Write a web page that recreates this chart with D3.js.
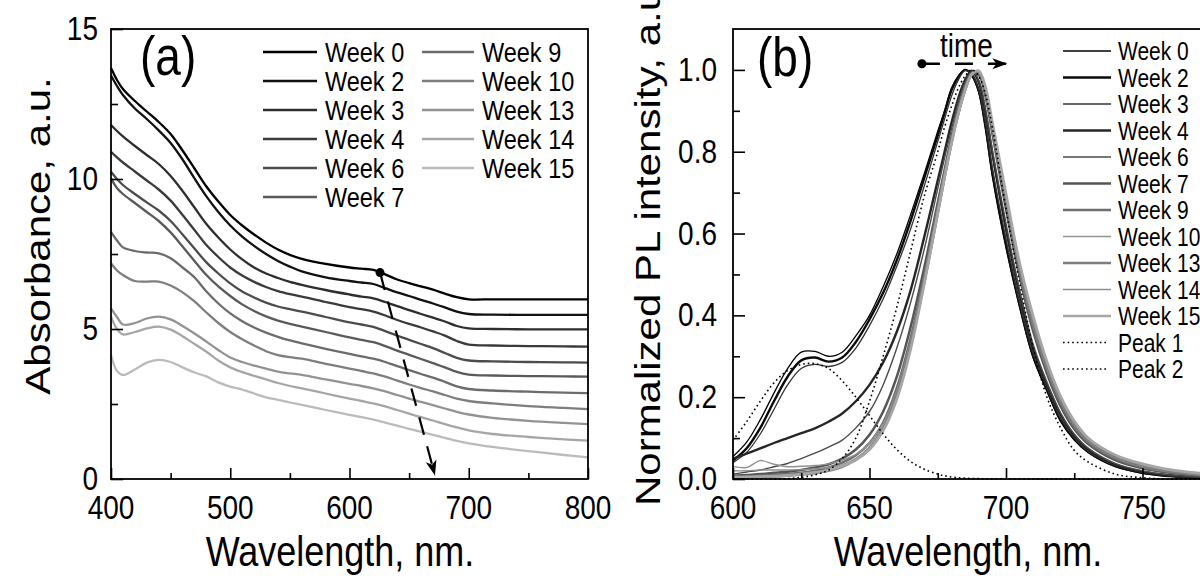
<!DOCTYPE html>
<html><head><meta charset="utf-8">
<script src="https://cdn.jsdelivr.net/npm/d3@7"></script>
<style>
body{margin:0;background:#fff}
svg{display:block}
text{font-family:"Liberation Sans",Arial,Helvetica,sans-serif;fill:#000}
</style>
</head><body>
<svg id="c" width="1200" height="576"></svg>
<script>
// ---------- Panel (a): absorbance ----------
const wlA = [400,405,410,420,430,440,450,460,470,480,490,500,510,520,530,540,550,560,580,600,610,620,630,640,650,660,670,680,690,700,720,750,780,800];
const absW0  = [13.7,13.3,13.0,12.6,12.25,11.9,11.5,10.95,10.35,9.75,9.25,8.8,8.45,8.15,7.88,7.65,7.47,7.34,7.17,7.05,7.01,6.97,6.82,6.65,6.53,6.42,6.31,6.18,6.06,5.99,5.99,5.99,5.99,5.99];
const absW2  = [13.45,13.1,12.8,12.35,12.0,11.62,11.2,10.65,10.02,9.42,8.9,8.45,8.08,7.77,7.5,7.27,7.08,6.92,6.72,6.6,6.55,6.5,6.36,6.22,6.1,5.97,5.85,5.72,5.58,5.5,5.48,5.47,5.47,5.47];
const absW3  = [11.8,11.6,11.42,11.1,10.8,10.5,10.1,9.6,9.05,8.5,8.05,7.65,7.32,7.05,6.85,6.7,6.57,6.47,6.3,6.15,6.08,6.02,5.9,5.76,5.63,5.5,5.38,5.25,5.1,5.02,5.0,4.99,4.99,4.99];
const absW4  = [10.91,10.72,10.55,10.25,9.95,9.65,9.28,8.8,8.3,7.8,7.4,7.05,6.78,6.57,6.4,6.26,6.16,6.08,5.9,5.73,5.66,5.58,5.45,5.3,5.17,5.05,4.92,4.78,4.6,4.48,4.45,4.43,4.42,4.41];
const absW6  = [10.24,10.0,9.8,9.5,9.22,8.95,8.6,8.15,7.68,7.22,6.85,6.52,6.25,6.05,5.88,5.75,5.66,5.58,5.4,5.22,5.15,5.07,4.93,4.78,4.64,4.5,4.36,4.2,4.04,3.95,3.92,3.9,3.89,3.88];
const absW7  = [10.02,9.7,9.5,9.2,8.9,8.6,8.22,7.75,7.27,6.8,6.42,6.1,5.82,5.6,5.42,5.28,5.17,5.08,4.9,4.72,4.64,4.56,4.43,4.28,4.14,4.0,3.86,3.72,3.57,3.48,3.45,3.43,3.42,3.41];
const absW9  = [8.24,7.95,7.72,7.6,7.55,7.52,7.36,7.05,6.72,6.25,5.85,5.52,5.26,5.05,4.88,4.74,4.62,4.52,4.34,4.17,4.09,4.01,3.9,3.76,3.63,3.5,3.38,3.24,3.09,3.0,2.95,2.91,2.88,2.86];
const absW10 = [7.19,6.95,6.8,6.6,6.58,6.58,6.45,6.22,5.92,5.55,5.2,4.9,4.66,4.45,4.26,4.13,4.06,4.01,3.84,3.68,3.6,3.52,3.41,3.28,3.15,3.03,2.92,2.8,2.68,2.6,2.52,2.43,2.37,2.33];
const absW13 = [5.69,5.4,5.15,5.2,5.35,5.41,5.32,5.1,4.85,4.58,4.3,4.05,3.9,3.78,3.68,3.58,3.52,3.47,3.32,3.17,3.1,3.02,2.92,2.8,2.68,2.57,2.46,2.35,2.24,2.15,2.04,1.94,1.87,1.83];
const absW14 = [5.41,5.0,4.82,4.9,5.02,5.08,4.98,4.76,4.5,4.24,3.95,3.72,3.56,3.44,3.32,3.2,3.1,3.02,2.85,2.68,2.6,2.52,2.42,2.3,2.18,2.06,1.95,1.83,1.72,1.62,1.5,1.4,1.32,1.28];
const absW15 = [4.13,3.6,3.47,3.65,3.88,3.97,3.9,3.72,3.55,3.42,3.22,3.08,2.98,2.85,2.72,2.64,2.55,2.47,2.3,2.14,2.06,1.98,1.88,1.78,1.67,1.57,1.47,1.37,1.27,1.19,1.07,0.93,0.8,0.72];
const namesA = ["Week 0","Week 2","Week 3","Week 4","Week 6","Week 7","Week 9","Week 10","Week 13","Week 14","Week 15"];
const seriesA = [absW0,absW2,absW3,absW4,absW6,absW7,absW9,absW10,absW13,absW14,absW15];
const colorsA = ["#000000","#111111","#2e2e2e","#3a3a3a","#4c4c4c","#5a5a5a","#6c6c6c","#7e7e7e","#939393","#a6a6a6","#bbbbbb"];
const xTicksA = [400,500,600,700,800], xMinorA = [450,550,650,750];
const yTicksA = [0,5,10,15], yMinorA = [2.5,7.5,12.5];
const arrowA = {x0:625.6, y0:6.88, x1:671.7, y1:0.12};

// ---------- Panel (b): normalized PL ----------
const wlB = [600,605,610,615,620,625,630,635,640,645,650,655,660,665,670,675,677.5,680,682.5,685,687.5,690,692.5,695,700,705,710,715,720,725,730,740,750,760,770,780,790,800];
const plW0  = [0.055,0.09,0.145,0.21,0.27,0.31,0.312,0.3,0.31,0.35,0.4,0.47,0.55,0.645,0.745,0.85,0.9,0.955,0.985,1.0,0.985,0.945,0.855,0.74,0.565,0.42,0.295,0.215,0.14,0.095,0.065,0.03,0.014,0.007,0.003,0.001,0,0];
const plW2  = [0.045,0.075,0.125,0.19,0.25,0.29,0.297,0.287,0.297,0.335,0.39,0.455,0.535,0.63,0.735,0.84,0.895,0.95,0.982,1.0,0.988,0.95,0.862,0.75,0.575,0.425,0.3,0.218,0.145,0.098,0.067,0.032,0.015,0.007,0.003,0.001,0,0];
const plW3  = [0.04,0.065,0.11,0.17,0.23,0.27,0.28,0.275,0.285,0.32,0.375,0.44,0.52,0.61,0.715,0.825,0.88,0.935,0.975,0.998,0.99,0.952,0.87,0.76,0.585,0.43,0.305,0.222,0.148,0.1,0.068,0.033,0.016,0.008,0.003,0.001,0,0];
const plW4  = [0.05,0.062,0.075,0.088,0.1,0.112,0.124,0.14,0.16,0.19,0.23,0.285,0.36,0.46,0.59,0.73,0.8,0.87,0.93,0.975,0.998,0.97,0.895,0.795,0.61,0.45,0.318,0.23,0.157,0.106,0.073,0.036,0.018,0.009,0.004,0.002,0.001,0];
const plW6  = [0.012,0.017,0.022,0.03,0.038,0.05,0.063,0.078,0.095,0.125,0.165,0.23,0.32,0.43,0.56,0.71,0.785,0.855,0.92,0.97,0.997,0.975,0.905,0.805,0.625,0.462,0.328,0.237,0.162,0.11,0.076,0.038,0.02,0.01,0.005,0.002,0.001,0];
const plW7  = [0.008,0.01,0.012,0.015,0.018,0.022,0.028,0.036,0.05,0.072,0.108,0.165,0.25,0.37,0.515,0.675,0.755,0.835,0.905,0.958,0.992,0.988,0.935,0.845,0.66,0.495,0.36,0.258,0.178,0.122,0.086,0.046,0.026,0.015,0.009,0.005,0.003,0.002];
const plW9  = [0.005,0.006,0.008,0.01,0.012,0.015,0.02,0.028,0.04,0.058,0.088,0.138,0.222,0.342,0.495,0.665,0.75,0.83,0.9,0.955,0.99,0.992,0.942,0.853,0.672,0.505,0.37,0.266,0.186,0.128,0.09,0.05,0.029,0.017,0.01,0.006,0.004,0.003];
const plW10 = [0.031,0.028,0.045,0.036,0.03,0.031,0.033,0.037,0.046,0.06,0.088,0.136,0.215,0.335,0.49,0.66,0.745,0.825,0.897,0.952,0.99,0.993,0.947,0.858,0.68,0.512,0.376,0.27,0.19,0.131,0.093,0.052,0.03,0.018,0.011,0.007,0.004,0.003];
const plW13 = [0.004,0.004,0.005,0.006,0.008,0.011,0.014,0.02,0.03,0.048,0.077,0.124,0.205,0.325,0.48,0.65,0.738,0.82,0.892,0.95,0.99,0.995,0.95,0.862,0.688,0.518,0.382,0.277,0.195,0.135,0.095,0.055,0.032,0.019,0.012,0.008,0.005,0.004];
const plW14 = [0.02,0.02,0.022,0.022,0.022,0.023,0.025,0.028,0.035,0.05,0.077,0.122,0.2,0.318,0.472,0.642,0.73,0.814,0.887,0.946,0.987,0.997,0.955,0.868,0.693,0.523,0.387,0.282,0.198,0.138,0.098,0.057,0.034,0.021,0.013,0.009,0.006,0.005];
const plW15 = [0.005,0.005,0.006,0.007,0.009,0.012,0.016,0.022,0.032,0.046,0.072,0.118,0.195,0.315,0.475,0.65,0.738,0.82,0.893,0.95,0.99,0.998,0.958,0.872,0.698,0.528,0.397,0.287,0.202,0.142,0.101,0.059,0.037,0.023,0.015,0.01,0.007,0.005];
const peak1 = [0,0,0,0,0.001,0.004,0.01,0.022,0.05,0.1,0.19,0.3,0.42,0.555,0.69,0.8,0.86,0.91,0.955,0.985,1.0,0.985,0.94,0.86,0.66,0.48,0.32,0.2,0.125,0.07,0.042,0.012,0.003,0,0,0,0,0];
const peak2 = [0.095,0.14,0.19,0.235,0.265,0.28,0.282,0.27,0.24,0.2,0.155,0.11,0.072,0.043,0.024,0.012,0.008,0.005,0.003,0.002,0.001,0.001,0,0,0,0,0,0,0,0,0,0,0,0,0,0,0,0];
const namesB = ["Week 0","Week 2","Week 3","Week 4","Week 6","Week 7","Week 9","Week 10","Week 13","Week 14","Week 15","Peak 1","Peak 2"];
const seriesB = [plW0,plW2,plW3,plW4,plW6,plW7,plW9,plW10,plW13,plW14,plW15,peak1,peak2];
const colorsB = ["#000000","#0a0a0a","#333333","#262626","#4a4a4a","#555555","#6e6e6e","#929292","#7c7c7c","#8e8e8e","#a6a6a6","#000000","#000000"];
const widthsB = [1.3,2.4,1.3,2.4,1.4,2.5,2.6,1.4,2.6,1.4,2.7,1.6,1.6];
const dottedB = [false,false,false,false,false,false,false,false,false,false,false,true,true];
const xTicksB = [600,650,700,750,800], xMinorB = [625,675,725,775];
const xLabelsB = [600,650,700,750];
const yTicksB = [0,0.2,0.4,0.6,0.8,1.0], yMinorB = [0.1,0.3,0.5,0.7,0.9];
const tickFmtB = d3.format(".1f");
const timeArrow = {x0:669.2, x1:700.5, y:1.015, tx:675.8};

// ---------- drawing ----------
const SY = 1.2; // vertical stretch of the source figure's text
const svg = d3.select("#c");
svg.append("rect").attr("width",1200).attr("height",576).attr("fill","#fff");

function label(x, y, s, size, anchor, rot) {
  return svg.append("text")
    .attr("transform", `translate(${x},${y}) scale(1,${SY})` + (rot ? " rotate(-90)" : ""))
    .attr("font-size", size).attr("text-anchor", anchor || "start").text(s);
}

const xA = d3.scaleLinear([400, 800], [111, 588]);
const yA = d3.scaleLinear([0, 15], [479, 29]);
const xB = d3.scaleLinear([600, 800], [733, 1279]);
const yB = d3.scaleLinear([0, 1.1], [479, 29]);

function ticks(g, axis, tr) {
  g.append("g").attr("transform", tr).call(axis)
   .call(s => s.select(".domain").remove())
   .call(s => s.selectAll("line").attr("stroke","#000").attr("stroke-width",1.6));
}
function drawAxes(x, y, xT, xM, yT, yM) {
  const g = svg.append("g");
  const b = `translate(0,${y.range()[0]})`, l = `translate(${x.range()[0]},0)`;
  ticks(g, d3.axisBottom(x).tickValues(xT).tickSize(-11).tickFormat(""), b);
  ticks(g, d3.axisBottom(x).tickValues(xM).tickSize(-6).tickFormat(""), b);
  ticks(g, d3.axisLeft(y).tickValues(yT).tickSize(-12).tickFormat(""), l);
  ticks(g, d3.axisLeft(y).tickValues(yM).tickSize(-7).tickFormat(""), l);
  g.append("rect").attr("x", x.range()[0]).attr("y", y.range()[1])
    .attr("width", x.range()[1]-x.range()[0]).attr("height", y.range()[0]-y.range()[1])
    .attr("fill","none").attr("stroke","#000").attr("stroke-width",1.8);
}

// defs
const defs = svg.append("defs");
defs.append("marker").attr("id","ah").attr("viewBox","-16 -6 18 12")
  .attr("refX",0).attr("refY",0).attr("markerWidth",18).attr("markerHeight",12)
  .attr("markerUnits","userSpaceOnUse").attr("orient","auto")
  .append("path").attr("d","M0,0 L-15,-5.5 L-11,0 L-15,5.5 Z").attr("fill","#000");

// ----- panel a -----
const lineA = d3.line().x((d,i)=>xA(wlA[i])).y(d=>yA(d)).curve(d3.curveCatmullRom);
seriesA.slice().reverse().forEach((s, k) => {
  const i = seriesA.length - 1 - k;
  svg.append("path").attr("d", lineA(s)).attr("fill","none")
    .attr("stroke", colorsA[i]).attr("stroke-width", 2.3).attr("stroke-linejoin","round");
});
drawAxes(xA, yA, xTicksA, xMinorA, yTicksA, yMinorA);
xTicksA.forEach(v => label(xA(v), 519, String(v), 28, "middle"));
yTicksA.forEach(v => label(98, yA(v)+11, String(v), 28, "end"));
label(340, 566, "Wavelength, nm.", 36, "middle");
label(50, 236, "Absorbance, a.u.", 35, "middle", true);
label(140, 75, "(a)", 46, "start");

// legend a
namesA.forEach((n, i) => {
  const col = i < 6 ? 0 : 1, row = i < 6 ? i : i - 6;
  const lx0 = col ? 422 : 263, lx1 = col ? 474 : 317, tx = col ? 482 : 325;
  const ly = 52 + 29*row;
  svg.append("line").attr("x1",lx0).attr("x2",lx1).attr("y1",ly).attr("y2",ly)
    .attr("stroke",colorsA[i]).attr("stroke-width",2.6);
  label(tx, ly + 10, n, 23.5, "start");
});

// arrow a
svg.append("line").attr("x1",xA(arrowA.x0)).attr("y1",yA(arrowA.y0))
  .attr("x2",xA(arrowA.x1)).attr("y2",yA(arrowA.y1))
  .attr("stroke","#000").attr("stroke-width",2.2).attr("stroke-dasharray","18,12")
  .attr("marker-end","url(#ah)");
svg.append("circle").attr("cx",xA(arrowA.x0)).attr("cy",yA(arrowA.y0)).attr("r",4.5).attr("fill","#000");

// ----- panel b -----
const lineB = d3.line().x((d,i)=>xB(wlB[i])).y(d=>yB(d)).curve(d3.curveCatmullRom);
seriesB.forEach((s, i) => {
  const p = svg.append("path").attr("d", lineB(s)).attr("fill","none")
    .attr("stroke", colorsB[i]).attr("stroke-width", widthsB[i]).attr("stroke-linejoin","round");
  if (dottedB[i]) p.attr("stroke-dasharray","1.6,3");
});
drawAxes(xB, yB, xTicksB, xMinorB, yTicksB, yMinorB);
xLabelsB.forEach(v => label(xB(v), 519, String(v), 28, "middle"));
yTicksB.forEach(v => label(717, yB(v)+11, tickFmtB(v), 28, "end"));
label(968, 566, "Wavelength, nm.", 36, "middle");
label(660, 506, "Normalized PL intensity, a.u.", 35, "start", true);
label(757, 76, "(b)", 46, "start");

// legend b
namesB.forEach((n, i) => {
  const ly = 51 + 26.5*i;
  const l = svg.append("line").attr("x1",1063).attr("x2", dottedB[i] ? 1108 : 1111).attr("y1",ly).attr("y2",ly)
    .attr("stroke",colorsB[i]).attr("stroke-width", Math.max(widthsB[i], 1.4));
  if (dottedB[i]) l.attr("stroke-dasharray","1.6,3");
  label(1118, ly + 9, n, 21, "start");
});

// time arrow
label(xB(timeArrow.tx), 56.5, "time", 28, "start");
svg.append("line").attr("x1",xB(timeArrow.x0)).attr("x2",xB(timeArrow.x1))
  .attr("y1",yB(timeArrow.y)).attr("y2",yB(timeArrow.y))
  .attr("stroke","#000").attr("stroke-width",2.4).attr("stroke-dasharray","18,15")
  .attr("marker-end","url(#ah)");
svg.append("circle").attr("cx",xB(timeArrow.x0)).attr("cy",yB(timeArrow.y)).attr("r",4.5).attr("fill","#000");
</script>
</body></html>
